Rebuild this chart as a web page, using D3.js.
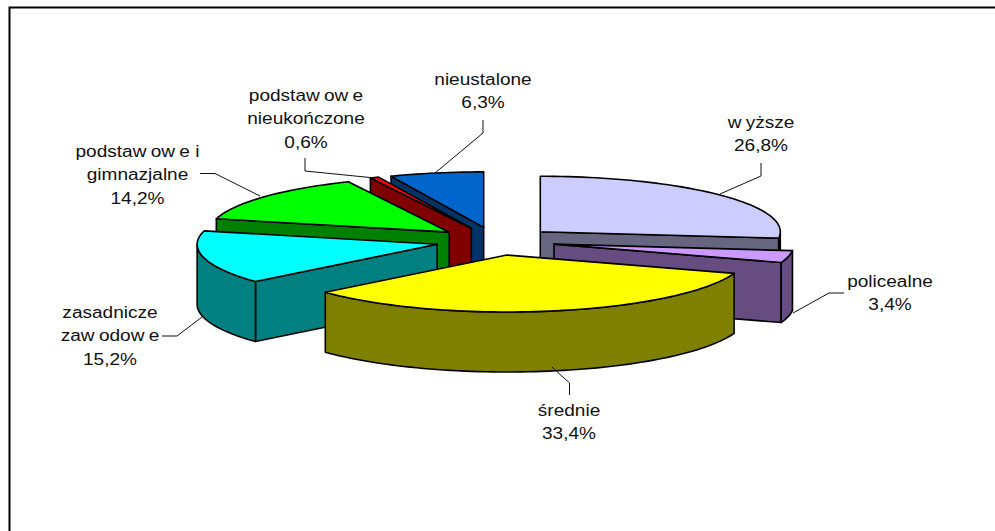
<!DOCTYPE html>
<html>
<head>
<meta charset="utf-8">
<title>wykształcenie</title>
<style>
  html, body { margin: 0; padding: 0; background: #fff; overflow: hidden; }
  svg { display: block; }
  .slice path { stroke: #000; stroke-width: 1.6; stroke-linejoin: round; }
  .leader { fill: none; stroke: #111; stroke-width: 1; }
  .label text { font-family: "Liberation Sans", Arial, sans-serif; font-size: 16px; fill: #111; text-anchor: middle; }
</style>
</head>
<body>
<script src="https://cdn.jsdelivr.net/npm/d3@7"></script>
<script>
// dane
var categories = ["wyższe", "policealne", "średnie", "zasadnicze zawodowe", "podstawowe i gimnazjalne", "podstawowe nieukończone", "nieustalone"];
var values = [26.8, 3.4, 33.4, 15.2, 14.2, 0.6, 6.3];
var valueLabels = ["26,8%", "3,4%", "33,4%", "15,2%", "14,2%", "0,6%", "6,3%"];
var labelLines = [["wyższe"], ["policealne"], ["średnie"], ["zasadnicze", "zawodowe"], ["podstawowe i", "gimnazjalne"], ["podstawowe", "nieukończone"], ["nieustalone"]];
var topColors = ["#CCCCFF", "#CC99FF", "#FFFF00", "#00FFFF", "#00FF00", "#FF0000", "#0066CC"];
var wallColors = ["#666680", "#664C80", "#808000", "#008080", "#008000", "#800000", "#003366"];

// uklad podpisow: srodek i linia bazowa pierwszego wiersza, potem linia odniesienia
var labelPos = [[761, 128], [890, 287], [569, 416], [110, 318], [137.5, 157], [306, 101], [483, 85]];
var leaderPts = [
  [[761, 163], [761, 176], [720, 194]],
  [[844, 293], [829, 293], [793, 313]],
  [[569.5, 395], [569.5, 383], [552, 367]],
  [[162, 336], [177, 336], [202, 317]],
  [[200, 173.5], [215, 173.5], [260, 196]],
  [[305, 158], [305, 171], [375, 178]],
  [[483, 120], [483, 133], [435, 173]]
];

var width = 995, height = 531;
var depth = 60, explode = 0.25, lineH = 23.5;

var svg = d3.select("body").append("svg").attr("width", width).attr("height", height);

// ramka wykresu - prawa i dolna krawedz poza kadrem
svg.append("path")
  .attr("d", "M9.5,531V7.5H995")
  .attr("fill", "none").attr("stroke", "#000").attr("stroke-width", 2);

// rzut kola na elipse, tyl troche krotszy od przodu (perspektywa)
var sx = d3.scaleLinear().domain([-1, 1]).range([255.5, 735.5]);
var sy = d3.scaleLinear().domain([-1, 0, 1]).range([185.5, 241, 298]);

var pie = d3.pie().sort(null).value(function (d) { return d; });
var arcs = pie(values).map(function (a, i) {
  var mid = (a.startAngle + a.endAngle) / 2;
  return { i: i, a0: a.startAngle, a1: a.endAngle, ox: explode * Math.sin(mid), oy: -explode * Math.cos(mid) };
});

function pt(s, r, ang, dz) {
  return [sx(s.ox + r * Math.sin(ang)), sy(s.oy - r * Math.cos(ang)) + (dz || 0)];
}
function rim(s, a0, a1, dz) {
  var n = Math.max(2, Math.ceil((a1 - a0) / 0.03));
  return d3.range(n + 1).map(function (k) { return pt(s, 1, a0 + (a1 - a0) * k / n, dz); });
}
var line = d3.line();

function wall(s, ang) {
  return line([pt(s, 0, 0), pt(s, 1, ang), pt(s, 1, ang, depth), pt(s, 0, 0, depth)]) + "Z";
}

// malowanie od tylu do przodu
var order = arcs.slice().sort(function (p, q) { return pt(p, 0, 0)[1] - pt(q, 0, 0)[1]; });

var slices = svg.selectAll("g.slice").data(order).enter().append("g").attr("class", "slice");

slices.each(function (s) {
  var g = d3.select(this), wc = wallColors[s.i];
  // sciany promieniowe widoczne tylko od strony widza
  if (s.a0 > Math.PI) g.append("path").attr("d", wall(s, s.a0)).attr("fill", wc);
  if (s.a1 < Math.PI) g.append("path").attr("d", wall(s, s.a1)).attr("fill", wc);
  // zewnetrzna sciana: tylko przednia polowa elipsy
  var f0 = Math.max(s.a0, Math.PI / 2), f1 = Math.min(s.a1, Math.PI * 1.5);
  if (f1 > f0) {
    g.append("path")
      .attr("d", line(rim(s, f0, f1).concat(rim(s, f0, f1, depth).reverse())) + "Z")
      .attr("fill", wc);
  }
  g.append("path")
    .attr("d", line([pt(s, 0, 0)].concat(rim(s, s.a0, s.a1))) + "Z")
    .attr("fill", topColors[s.i]);
});

svg.selectAll("path.leader").data(leaderPts).enter().append("path")
  .attr("class", "leader")
  .attr("d", function (d) { return line(d); });

var labels = svg.selectAll("g.label").data(categories).enter().append("g")
  .attr("class", "label")
  .attr("transform", function (d, i) { return "translate(" + labelPos[i][0] + "," + labelPos[i][1] + ") scale(1.19,1)"; });

labels.each(function (d, i) {
  var g = d3.select(this);
  var rows = labelLines[i].concat(valueLabels[i]);
  rows.forEach(function (t, r) {
    g.append("text")
      .attr("y", r * lineH)
      // odstep po "w" jak w oryginale
      .attr("dx", t.split("").map(function (c, k) { return k > 0 && t[k - 1] === "w" ? 3.6 : 0; }).join(" "))
      .text(t);
  });
});
</script>
</body>
</html>
